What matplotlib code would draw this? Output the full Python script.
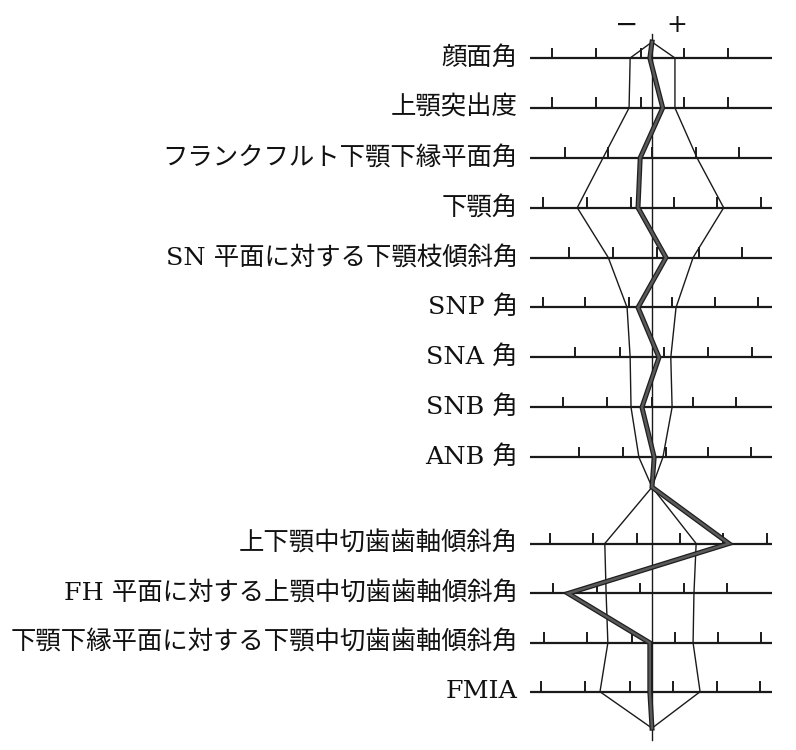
import matplotlib
matplotlib.use("Agg")
import matplotlib.pyplot as plt

# ---- data (units: scale steps from the mean line) ----
labels = ["顔面角", "上顎突出度", "フランクフルト下顎下縁平面角", "下顎角",
          "SN 平面に対する下顎枝傾斜角", "SNP 角", "SNA 角", "SNB 角", "ANB 角",
          "上下顎中切歯歯軸傾斜角", "FH 平面に対する上顎中切歯歯軸傾斜角",
          "下顎下縁平面に対する下顎中切歯歯軸傾斜角", "FMIA"]
row_pos = [0, 1, 2, 3, 4, 5, 6, 7, 8, 9.73, 10.73, 11.72, 12.70]
band_low = [-0.50, -0.525, -1.12, -1.71, -1.00, -0.57, -0.50, -0.48, -0.30,
            -1.08, -1.05, -1.01, -1.19]
band_high = [0.525, 0.525, 1.03, 1.64, 0.94, 0.55, 0.43, 0.46, 0.25,
             1.01, 0.96, 0.94, 1.10]
patient = [-0.05, 0.245, -0.27, -0.32, 0.32, -0.32, 0.16, -0.23, 0.05,
           1.76, -1.92, -0.05, -0.05]
row_ticks = [
    [-2.28, -1.28, -0.26, 0.73, 1.74],
    [-2.28, -1.28, -0.26, 0.73, 1.74],
    [-1.99, -1.00, 0.00, 1.00, 1.99],
    [-2.49, -1.48, -0.48, 0.50, 1.48, 2.49],
    [-1.89, -0.89, 0.11, 1.07, 2.05],
    [-2.49, -1.53, -0.53, 0.46, 1.44, 2.42],
    [-1.76, -0.73, 0.27, 1.28, 2.28],
    [-2.03, -1.03, 0.00, 0.94, 1.92],
    [-1.67, -0.66, 0.32, 1.28, 2.26],
    [-2.33, -1.35, -0.34, 0.64, 1.62, 2.63],
    [-2.27, -1.26, -0.27, 0.73, 1.72],
    [-2.47, -1.49, -0.46, 0.53, 1.51, 2.49],
    [-2.54, -1.53, -0.50, 0.48, 1.49, 2.47],
]
sign_labels = ["−", "+"]
top_apex = -0.32
join_pos = 8.60
bottom_apex = 13.43

# ---- figure ----
fig = plt.figure(figsize=(7.96, 7.5), dpi=100)
ax = fig.add_axes([0, 0, 1, 1])
ax.set_xlim(-652 / 43.7, (796 - 652) / 43.7)
ax.set_ylim((750 - 58) / 49.9, -58 / 49.9)
ax.axis("off")

fam = ["DejaVu Serif", "Noto Sans CJK JP"]
line_l, line_r = -2.8, 2.75
tick_h = 0.19

for lab, y, ticks in zip(labels, row_pos, row_ticks):
    ax.plot([line_l, line_r], [y, y], color="#1a1a1a", lw=1.6, solid_capstyle="butt", zorder=2)
    for t in ticks:
        ax.plot([t, t], [y, y - tick_h], color="#1a1a1a", lw=1.4, zorder=2)
    ax.text(-3.07, y, lab, ha="right", va="center", fontsize=18.3,
            family=fam, color="#111111")

# centre (mean) line
ax.plot([0, 0], [-0.48, 13.67], color="#1a1a1a", lw=1.0, zorder=3)

# standard-deviation band
upper_n = 9
left_x = [0] + band_low[:upper_n] + [0] + band_low[upper_n:] + [0]
right_x = [0] + band_high[:upper_n] + [0] + band_high[upper_n:] + [0]
path_y = [top_apex] + row_pos[:upper_n] + [join_pos] + row_pos[upper_n:] + [bottom_apex]
ax.plot(left_x, path_y, color="#1a1a1a", lw=1.0, zorder=3)
ax.plot(right_x, path_y, color="#1a1a1a", lw=1.0, zorder=3)

# patient polygon
pat_x = [0] + patient[:upper_n] + [0] + patient[upper_n:] + [0]
ax.plot(pat_x, path_y, color="#1e1e1e", lw=3.6, zorder=4, solid_joinstyle="miter")
ax.plot(pat_x, path_y, color="#5a5a5a", lw=1.8, zorder=5, solid_joinstyle="miter")

# sign labels
ax.text(-0.57, -0.66, sign_labels[0], ha="center", va="center", fontsize=20,
        family=["DejaVu Sans"], color="#111111")
ax.text(0.57, -0.66, sign_labels[1], ha="center", va="center", fontsize=18,
        family=["DejaVu Sans"], color="#111111")

fig.savefig("out.png", dpi=100)
